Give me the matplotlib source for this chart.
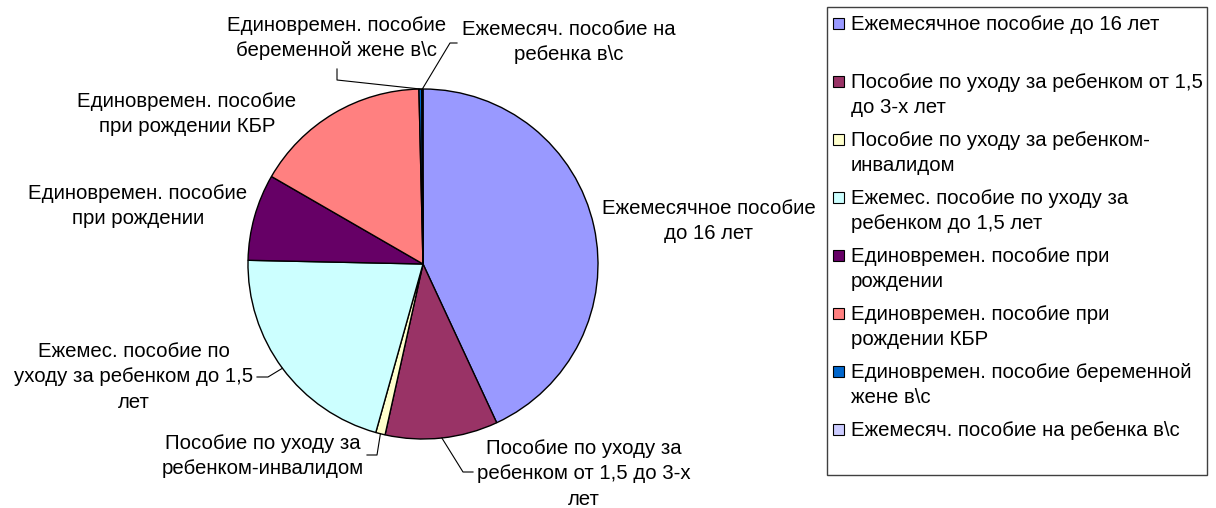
import numpy as np
import matplotlib
matplotlib.use("Agg")
import matplotlib.pyplot as plt
from matplotlib.patches import Rectangle

plt.rcParams["font.family"] = ["Liberation Sans", "DejaVu Sans"]

# share of each allowance, %
values = [43.1, 10.4, 0.87, 21.0, 8.0, 16.3, 0.25, 0.12]
colors = ["#9999FF", "#993366", "#FFFFCC", "#CCFFFF",
          "#660066", "#FF8080", "#0066CC", "#CCCCFF"]
pie_labels = [
    "Ежемесячное пособие\nдо 16 лет",
    "Пособие по уходу за\nребенком от 1,5 до 3-х\nлет",
    "Пособие по уходу за\nребенком-инвалидом",
    "Ежемес. пособие по\nуходу за ребенком до 1,5\nлет",
    "Единовремен. пособие\nпри рождении",
    "Единовремен. пособие\nпри рождении КБР",
    "Единовремен. пособие\nбеременной жене в\\с",
    "Ежемесяч. пособие на\nребенка в\\с",
]
legend_labels = [
    "Ежемесячное пособие до 16 лет",
    "Пособие по уходу за ребенком от 1,5\nдо 3-х лет",
    "Пособие по уходу за ребенком-\nинвалидом",
    "Ежемес. пособие по уходу за\nребенком до 1,5 лет",
    "Единовремен. пособие при\nрождении",
    "Единовремен. пособие при\nрождении КБР",
    "Единовремен. пособие беременной\nжене в\\с",
    "Ежемесяч. пособие на ребенка в\\с",
]

W, H = 1216, 508
CX, CY, R = 423, 264, 175
FS = 14.7
LS = 1.43
ASC = 14

fig = plt.figure(figsize=(W / 100, H / 100), dpi=100)
ax = fig.add_axes([(CX - R) / W, (H - CY - R) / H, 2 * R / W, 2 * R / H])


def px(x, y):
    """pixel position -> pie data coords"""
    return (x - CX) / R, (CY - y) / R


wedges, _ = ax.pie(values, colors=colors, startangle=90, counterclock=False,
                   radius=1, wedgeprops=dict(edgecolor="black", linewidth=1))
ax.set_xlim(-1, 1)
ax.set_ylim(-1, 1)
ax.set_aspect("equal")
ax.axis("off")

# label placement (pixel centre x, first line baseline y)
label_pos = [(709, 213), (584, 453), (263, 448), (134, 356),
             (138, 198), (187, 106), (337, 30), (569, 34)]
# leader lines: elbow and end points (pixels), None = no line
leaders = [None, [(463, 472), (473, 472)], [(377, 455), (367, 455)],
           [(268, 377), (257, 377)], None, None,
           [(337, 80), (337, 69)], [(450, 43), (457, 43)]]

for w, lab, (lx, ly), lead in zip(wedges, pie_labels, label_pos, leaders):
    tx, ty = px(lx, ly - ASC)
    ax.text(tx, ty, lab, ha="center", va="top", fontsize=FS,
            linespacing=LS, multialignment="center", clip_on=False)
    if lead is not None:
        ang = np.deg2rad((w.theta1 + w.theta2) / 2)
        xs = [np.cos(ang)] + [px(*p)[0] for p in lead]
        ys = [np.sin(ang)] + [px(*p)[1] for p in lead]
        ax.plot(xs, ys, color="black", lw=0.8, clip_on=False)

# legend box
fig.patches.append(Rectangle((827 / W, 1 - 475 / H), 380 / W, 468 / H,
                             transform=fig.transFigure, fill=False,
                             edgecolor="#404040", lw=1))
for i, (lab, c) in enumerate(zip(legend_labels, colors)):
    base = 29 + 58 * i
    fig.patches.append(Rectangle((833 / W, 1 - base / H), 11 / W, 11 / H,
                                 transform=fig.transFigure, facecolor=c,
                                 edgecolor="black", lw=0.8))
    fig.text(851 / W, 1 - (base - ASC) / H, lab, ha="left", va="top",
             fontsize=FS, linespacing=LS)

plt.savefig("out.png", dpi=100)
